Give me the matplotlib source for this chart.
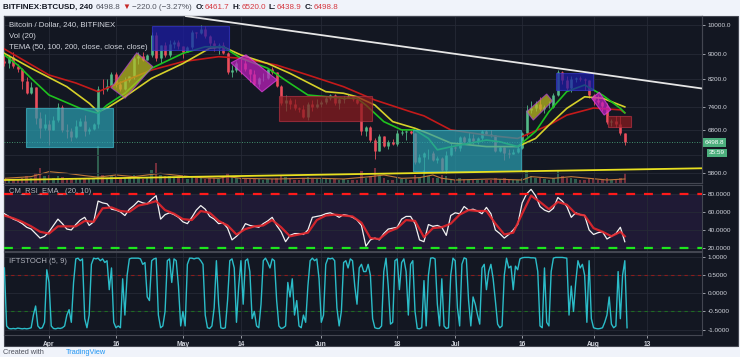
import matplotlib
matplotlib.use("Agg")
import matplotlib.pyplot as plt
import matplotlib.dates as mdates
from matplotlib.patches import Polygon, Rectangle
from matplotlib.ticker import FixedLocator, FixedFormatter, NullLocator, FuncFormatter
import numpy as np
import pandas as pd

plt.rcParams["font.family"] = ["Liberation Sans", "DejaVu Sans"]
plt.rcParams["axes.unicode_minus"] = False

# ---------------- data ----------------
candle_start = "2018-03-22"
closes = [
    8700, 8900, 8600, 8500, 8150, 7800, 7950, 7100, 6850, 6950,
    6800, 7050, 7400, 6800, 6780, 6620, 6900, 7030, 6770, 6830,
    6940, 7900, 7890, 8000, 8350, 8060, 7900, 8170, 8280, 8850,
    8930, 8800, 8940, 9650, 8870, 9280, 8940, 9340, 9400, 9240,
    9070, 9220, 9740, 9700, 9860, 9620, 9370, 9190, 9300, 9020,
    8420, 8480, 8700, 8680, 8500, 8340, 8060, 8240, 8240, 8520,
    8400, 8000, 7510, 7580, 7470, 7360, 7340, 7120, 7470, 7400,
    7490, 7530, 7640, 7720, 7500, 7630, 7650, 7690, 7620, 7510,
    6780, 6880, 6550, 6300, 6640, 6400, 6500, 6450, 6720, 6750,
    6760, 6720, 6050, 6150, 6250, 6250, 6080, 6140, 5860, 6200,
    6390, 6360, 6620, 6510, 6600, 6530, 6610, 6760, 6710, 6670,
    6300, 6380, 6250, 6220, 6270, 6360, 6730, 7320, 7380, 7470,
    7330, 7400, 7400, 7720, 8400, 8170, 7940, 8200, 8230, 8210,
    8170, 7730, 7600, 7540, 7420, 7010, 7030, 6940, 6720, 6499,
]
highs = [
    8950, 8950, 9050, 8650, 8550, 8250, 8100, 7950, 7250, 7200,
    7050, 7150, 7500, 7450, 6950, 6850, 7050, 7100, 7180, 6880,
    6980, 8000, 8200, 8200, 8400, 8400, 8150, 8250, 8300, 8950,
    9050, 9050, 8990, 9750, 9750, 9300, 9380, 9450, 9480, 9450,
    9250, 9270, 9800, 9750, 9990, 9950, 9650, 9450, 9350, 9380,
    9050, 8620, 8750, 8850, 8850, 8520, 8480, 8270, 8380, 8550,
    8580, 8420, 8030, 7720, 7650, 7620, 7400, 7450, 7540, 7580,
    7620, 7580, 7700, 7750, 7760, 7650, 7700, 7760, 7700, 7680,
    7520, 6900, 6900, 6600, 6700, 6650, 6550, 6580, 6800, 6830,
    6790, 6800, 6730, 6220, 6260, 6330, 6300, 6180, 6150, 6300,
    6480, 6400, 6650, 6660, 6750, 6690, 6630, 6800, 6800, 6790,
    6680, 6400, 6390, 6330, 6330, 6400, 6750, 7440, 7550, 7560,
    7670, 7450, 7560, 7780, 8480, 8450, 8300, 8280, 8250, 8280,
    8240, 8180, 7760, 7720, 7560, 7500, 7090, 7150, 7150, 6730,
]
lows = [
    8600, 8550, 8550, 8400, 7900, 7750, 7750, 6950, 6600, 6800,
    6430, 6800, 7000, 6750, 6600, 6520, 6600, 6900, 6650, 6700,
    6800, 6850, 7750, 7850, 7980, 7950, 7850, 7880, 8100, 8200,
    8650, 8750, 8800, 8900, 8750, 8700, 8900, 8900, 9200, 9150,
    8850, 9050, 9150, 9550, 9680, 9550, 9200, 9100, 9000, 9000,
    8350, 8250, 8400, 8350, 8450, 8120, 8020, 7950, 8150, 8200,
    8350, 7950, 7450, 7300, 7350, 7320, 7250, 7100, 7060, 7300,
    7380, 7400, 7480, 7600, 7450, 7350, 7500, 7650, 7550, 7480,
    6680, 6660, 6500, 6120, 6300, 6380, 6350, 6430, 6420, 6680,
    6560, 6700, 6000, 6030, 5800, 6100, 6070, 6030, 5850, 5800,
    6180, 6300, 6300, 6490, 6460, 6450, 6450, 6550, 6680, 6630,
    6270, 6280, 6090, 6140, 6220, 6250, 6340, 6660, 7240, 7290,
    7300, 7230, 7370, 7380, 7700, 8050, 7860, 7820, 8110, 8130,
    7870, 7650, 7450, 7480, 7300, 6950, 6900, 6870, 6680, 6430,
]
first_open = 8750
volume = [
    3, 2.5, 2, 2.5, 3, 4, 3, 6, 9, 4,
    5, 3, 4, 3.5, 3, 3, 2.5, 2.5, 3, 2.5,
    3, 22, 5, 3, 4, 4, 3, 3, 3.5, 5,
    3, 2.5, 3, 8, 12, 5, 4, 4, 3, 3,
    3, 2.5, 4, 3, 3, 2.5, 3, 3, 2.5, 3.5,
    6, 3.5, 3, 3, 2.5, 3, 3, 2.5, 2, 2.5,
    2.5, 3, 5, 3.5, 3, 2, 2, 3, 3.5, 2.5,
    2.5, 2.5, 2.5, 2.5, 2.5, 2, 2.5, 2, 2, 2,
    7, 3, 4, 9, 4, 3, 2, 2, 3, 2.5,
    2.5, 2, 5, 3.5, 8, 4, 3, 3, 5, 4,
    2.5, 2, 3, 2.5, 2.5, 2, 2, 2, 1.5, 2,
    3, 2.5, 3, 2, 1.5, 1.5, 3, 8, 4, 3,
    3, 2.5, 2, 3, 7, 4, 3, 3, 2.5, 2,
    2, 3, 2.5, 2, 2.5, 3, 2, 2, 3, 6,
]
vol_ma_dates = ["2018-03-22", "2018-03-28", "2018-04-01", "2018-04-05", "2018-04-09",
                "2018-04-12", "2018-04-16", "2018-04-20", "2018-04-26", "2018-04-29",
                "2018-05-05", "2018-05-09", "2018-05-11", "2018-05-14", "2018-05-22",
                "2018-05-28", "2018-06-01", "2018-06-06", "2018-06-12", "2018-06-15",
                "2018-06-19", "2018-06-23", "2018-06-26", "2018-06-28", "2018-07-01",
                "2018-07-09", "2018-07-16", "2018-07-18", "2018-07-23", "2018-07-27",
                "2018-07-31", "2018-08-04", "2018-08-08"]
vol_ma = [2.8, 3.8, 6.8, 5.8, 4.4, 3.5, 4.8, 3.8, 5.8, 4.8, 3.2, 2.8, 3.8, 2.8, 2.4,
          2.8, 2.8, 2.4, 3.8, 4.8, 2.8, 3.2, 4.8, 2.8, 1.8, 2.4, 1.8, 3.8, 2.8, 3.8,
          2.8, 1.8, 2.4]

tema50_dates = ["2018-03-22", "2018-03-25", "2018-03-28", "2018-04-01", "2018-04-08",
                "2018-04-12", "2018-04-14", "2018-04-18", "2018-04-24", "2018-05-01",
                "2018-05-06", "2018-05-10", "2018-05-14", "2018-05-20", "2018-05-25",
                "2018-05-29", "2018-06-06", "2018-06-09", "2018-06-11", "2018-06-15",
                "2018-06-19", "2018-06-22", "2018-06-25", "2018-06-27", "2018-06-30",
                "2018-07-08", "2018-07-11", "2018-07-15", "2018-07-19", "2018-07-22",
                "2018-07-26", "2018-07-30", "2018-08-03", "2018-08-07", "2018-08-08"]
tema50 = [8956, 8630, 8220, 7730, 7360, 7230, 7450, 7780, 8530, 9010, 9230, 9230, 8850,
          8530, 8070, 7730, 7640, 7640, 7450, 7010, 6800, 6800, 6590, 6320, 6390, 6550,
          6510, 6395, 6760, 7270, 7830, 8020, 7730, 7360, 7240]
tema100_dates = ["2018-03-22", "2018-03-28", "2018-04-05", "2018-04-10", "2018-04-12",
                 "2018-04-14", "2018-04-18", "2018-04-24", "2018-05-01", "2018-05-07",
                 "2018-05-10", "2018-05-14", "2018-05-20", "2018-05-25", "2018-06-02",
                 "2018-06-06", "2018-06-09", "2018-06-13", "2018-06-17", "2018-06-22",
                 "2018-06-25", "2018-06-30", "2018-07-08", "2018-07-15", "2018-07-19",
                 "2018-07-22", "2018-07-26", "2018-07-30", "2018-08-03", "2018-08-08"]
tema100 = [9010, 8530, 7970, 7500, 7270, 7370, 7680, 8220, 8680, 9180, 9230, 8956, 8680,
           8370, 7826, 7780, 7680, 7450, 7010, 6840, 6710, 6480, 6395, 6395, 6590, 6920,
           7360, 7680, 7640, 7400]
tema200_dates = ["2018-03-22", "2018-04-01", "2018-04-07", "2018-04-12", "2018-04-24",
                 "2018-05-01", "2018-05-09", "2018-05-14", "2018-05-22", "2018-05-29",
                 "2018-06-06", "2018-06-13", "2018-06-21", "2018-06-24", "2018-06-30",
                 "2018-07-08", "2018-07-15", "2018-07-22", "2018-07-26", "2018-08-01",
                 "2018-08-07", "2018-08-08"]
tema200 = [9155, 8320, 8080, 7826, 8475, 8740, 8900, 8850, 8630, 8320, 7970, 7590, 7270,
           7160, 6800, 6670, 6590, 6920, 7180, 7370, 7320, 7240]

# drawings (date, price) corners
boxes = [
    ([("2018-03-26 20:00", 7380), ("2018-04-15 08:00", 7380),
      ("2018-04-15 08:00", 6386), ("2018-03-26 20:00", 6386)], "#2a9fb0", "#3fb6c6"),
    ([("2018-04-14 22:00", 7940), ("2018-04-20 16:00", 9030),
      ("2018-04-24 06:00", 8580), ("2018-04-18 01:00", 7640)], "#bdbd1f", "#b040d0"),
    ([("2018-04-24 00:00", 9963), ("2018-05-11 08:00", 9963),
      ("2018-05-11 08:00", 9122), ("2018-04-24 00:00", 9122)], "#1c1ca8", "#3434c8"),
    ([("2018-05-11 19:00", 8700), ("2018-05-15 03:00", 8960),
      ("2018-05-22 02:00", 8170), ("2018-05-18 17:00", 7820)], "#c020c0", "#e040e0"),
    ([("2018-05-22 12:00", 7700), ("2018-06-12 10:00", 7700),
      ("2018-06-12 10:00", 7030), ("2018-05-22 12:00", 7030)], "#8b1a1e", "#b03040"),
    ([("2018-06-21 14:00", 6800), ("2018-07-15 17:00", 6800),
      ("2018-07-15 17:00", 5850), ("2018-06-21 14:00", 5850)], "#2a9fb0", "#3fb6c6"),
    ([("2018-07-17 01:00", 7270), ("2018-07-21 12:00", 7760),
      ("2018-07-22 19:00", 7560), ("2018-07-18 12:00", 7050)], "#bdbd1f", "#b040d0"),
    ([("2018-07-23 14:00", 8370), ("2018-07-31 23:00", 8370),
      ("2018-07-31 23:00", 7875), ("2018-07-23 14:00", 7875)], "#1c1ca8", "#3434c8"),
    ([("2018-07-31 14:00", 7640), ("2018-08-02 07:00", 7810),
      ("2018-08-04 21:00", 7320), ("2018-08-03 09:00", 7180)], "#c020c0", "#e040e0"),
    ([("2018-08-04 08:00", 7165), ("2018-08-09 08:00", 7165),
      ("2018-08-09 08:00", 6880), ("2018-08-04 08:00", 6880)], "#8b1a1e", "#b03040"),
]
white_trend = [("2018-05-01 12:00", 10336), ("2018-08-25 07:00", 7918)]
yellow_trend = [("2018-03-21 22:00", 5656), ("2018-08-25 07:00", 5905)]
last_price = 6498.8
countdown_price = 6247

rsi = [
    58, 55, 52, 50, 47, 43, 41, 36, 31, 33,
    38, 45, 52, 47, 41, 40, 46, 51, 54, 45,
    49, 72, 70, 69, 63, 62, 60, 56, 63, 67,
    72, 70, 69, 74, 78, 52, 57, 59, 57, 54,
    49, 47, 54, 62, 67, 63, 55, 52, 47, 48,
    42, 29, 33, 38, 47, 45, 44, 43, 47, 50,
    54, 45, 38, 27, 34, 36, 36, 35, 40, 54,
    55, 56, 58, 59, 57, 54, 57, 56, 54, 51,
    45, 22, 29, 31, 29, 36, 41, 42, 43, 52,
    55, 55, 47, 29, 27, 46, 44, 45, 43, 34,
    56, 59, 58, 66, 62, 63, 61, 58, 65, 58,
    40, 36, 31, 35, 40, 46, 70, 80, 85, 78,
    66, 62, 60, 64, 76, 72, 66, 54, 59, 57,
    56, 40, 35, 37, 38, 30, 33, 36, 43, 27,
]
rsi_ema = [56, 53, 49, 44, 38, 36, 44, 44, 44, 50, 49, 64, 65, 61, 60, 67, 69, 72, 62, 58,
           52, 51, 61, 59, 50, 45, 35, 41, 44, 45, 51, 43, 33, 35, 37, 51, 56, 57, 56, 55,
           48, 31, 30, 38, 42, 51, 50, 32, 42, 43, 47, 57, 62, 61, 61, 47, 35, 37, 58, 78,
           71, 63, 71, 68, 58, 56, 42, 38, 33, 38, 33]

ift = [
    0.7, -0.9, -0.97, -0.98, -0.97, -0.98, -0.96, -0.97, -0.98, -0.97,
    -0.98, -0.97, -0.95, -0.6, -0.35, -0.9, -0.97, -0.95, -0.8, 0.65,
    0.3, -0.9, -0.97, -0.98, -0.96, -0.97, -0.95, -0.9, -0.6, -0.45,
    -0.8, 0.3, 0.95, 0.97, 0.9, 0.95, -0.7, -0.95, -0.6, 0.8,
    0.97, 0.95, 0.97, 0.9, 0.95, 0.85, 0.9, 0.1, 0.7, -0.8,
    -0.95, -0.9, -0.95, 0.4, -0.6, 0.5, 0.95, 0.97, 0.97, 0.97,
    0.97, 0.95, 0.8, 0.85, -0.1, -0.2, 0.9, 0.95, 0.97, -0.6,
    -0.95, -0.9, -0.5, 0.9, 0.95, 0.3, 0.95, 0.9, 0.2, -0.9,
    -0.5, -0.9, 0.8, 0.97, 0.97, 0.95, 0.97, 0.97, 0.9, 0.8,
    -0.6, -0.95, -0.97, -0.9, -0.4, 0.9, -0.3, -0.95, -0.97, -0.95,
    -0.2, 0.9, 0.95, 0.7, -0.8, 0.2, 0.9, -0.3, 0.9, 0.95,
    0.6, -0.7, -0.5, -0.9, -0.95, -0.3, 0.9, 0.97, 0.85, 0.7,
    0.95, 0.9, -0.2, -0.9, -0.97, -0.95, -0.9, 0.3, -0.1, 0.4,
    -0.6, -0.2, -0.9, -0.95, -0.6, -0.8, 0.2, 0.9, 0.97, 0.9,
    0.95, 0.4, -0.8, -0.6, 0.8, 0.97, 0.95, 0.97, 0.9, -0.4,
    -0.9, -0.5, 0.85, 0.9, 0.7, 0.95, 0.9, 0.2, -0.3, 0.7,
    0.8, 0.6, 0.6, 0.8, 0.5, -0.7, -0.95, -0.97, -0.97, -0.9,
    0.6, 0.97, 0.2, -0.85, -0.8, 0.9, 0.95, 0.1, 0.85, 0.95,
    0.6, -0.6, 0.8, 0.9, -0.5, -0.97, -0.98, -0.95, 0.35, -0.9,
    0.5, 0.97, 0.98, 0.95, -0.3, -0.9, 0.4, -0.9, -0.97, -0.95,
    0.5, 0.97, 0.9, -0.4, -0.9, 0.8, 0.98, 0.95, -0.2, -0.9,
    -0.1, -0.3, -0.6, -0.85, 0.7, 0.8, 0.1, 0.6, 0.8, 0.4,
    -0.2, -0.85, -0.95, -0.9, 0.5, 0.97, 0.7, 0.75, 0.1, 0.75,
    0.65, 0.95, 0.98, 0.99, 0.99, 0.99, 0.98, 0.98, 0.97, 0.6,
    -0.9, -0.95, 0.7, -0.8, -0.9, 0.6, 0.97, 0.99, 0.99, 0.99,
    0.99, 0.98, 0.97, -0.6, 0.2, -0.5, 0.3, 0.9, 0.7, 0.8,
    0.5, -0.8, 0.9, -0.7, -0.95, -0.97, -0.98, -0.97, -0.95, -0.8,
    -0.6, -0.1, -0.85, -0.95, -0.9, 0.6, -0.7, 0.5, 0.9, -0.95,
]

price_ticks = [5800, 6800, 7400, 8200, 9000, 10000]
price_grid_extra = [6200]
rsi_ticks = [20, 40, 60, 80]
ift_ticks = [-1.0, -0.5, 0.0, 0.5, 1.0]
date_ticks = ["2018-04-01", "2018-04-16", "2018-05-01", "2018-05-14", "2018-06-01",
              "2018-06-18", "2018-07-01", "2018-07-16", "2018-08-01", "2018-08-13"]
date_labels = ["Apr", "16", "May", "14", "Jun", "18", "Jul", "16", "Aug", "13"]

# ---------------- styling ----------------
W, H = 740, 357
BG = "#131722"
GRID = "#262a36"
EDGE = "#434651"
TXT = "#d1d4dc"
UP = "#53b987"
DN = "#eb4d5c"


def px_rect(x0, y0, x1, y1):
    return [x0 / W, 1 - y1 / H, (x1 - x0) / W, (y1 - y0) / H]


def ts(s):
    return mdates.date2num(pd.Timestamp(s))


fig = plt.figure(figsize=(W / 100, H / 100), dpi=100)
fig.patch.set_facecolor("#f0f3fa")
fig.add_artist(Rectangle((4 / W, 1 - 346 / H), 734 / W, 330 / H, transform=fig.transFigure,
                         facecolor=BG, edgecolor=EDGE, lw=0.8, zorder=-5))

axv = fig.add_axes(px_rect(4, 16, 702, 183))
axp = fig.add_axes(px_rect(4, 16, 702, 183), sharex=axv)
axr = fig.add_axes(px_rect(4, 185, 702, 251), sharex=axv)
axi = fig.add_axes(px_rect(4, 252, 702, 335), sharex=axv)
axp.patch.set_visible(False)

for a in (axv, axp, axr, axi):
    a.set_facecolor(BG)
    for s in a.spines.values():
        s.set_color(EDGE)
        s.set_linewidth(0.8)
    a.tick_params(colors=TXT, labelsize=4.6, length=2, width=0.5, pad=2)

days = pd.date_range(candle_start, periods=len(closes), freq="D")
halfdays = pd.date_range(candle_start, periods=len(ift), freq="12h")
ema_days = list(days[::2]) + [days[-1]]

# volume (bottom layer)
opens = [first_open] + closes[:-1]
cols = [UP if c >= o else DN for o, c in zip(opens, closes)]
axv.bar(days, volume, width=0.55, color=cols, alpha=0.45, zorder=2)
axv.plot(pd.to_datetime(vol_ma_dates), vol_ma, color="#c0783a", lw=0.8, zorder=3)
axv.set_ylim(0, 100)
axv.set_yticks([])
axv.tick_params(labelbottom=False, length=0)

# price candles
axp.set_yscale("log")
axp.vlines(days, lows, highs, colors=cols, lw=0.6, zorder=3)
axp.vlines(days, np.minimum(opens, closes), np.maximum(opens, closes), colors=cols,
           lw=1.9, zorder=3)
axp.plot(pd.to_datetime(tema200_dates), tema200, color="#c41a1a", lw=1.2, zorder=4)
axp.plot(pd.to_datetime(tema100_dates), tema100, color="#d6d12a", lw=1.2, zorder=4)
axp.plot(pd.to_datetime(tema50_dates), tema50, color="#1fc21f", lw=1.2, zorder=4)
axp.axhline(last_price, color=UP, lw=0.6, ls=(0, (1, 2)), zorder=4)
for g in price_grid_extra:
    axp.axhline(g, color=GRID, lw=0.6, zorder=1)

for corners, fc, ec in boxes:
    pts = [(ts(d), p) for d, p in corners]
    axp.add_patch(Polygon(pts, closed=True, facecolor=fc, edgecolor=ec, lw=0.8,
                          alpha=0.72, zorder=5))

axp.plot([ts(d) for d, _ in white_trend], [p for _, p in white_trend],
         color="#e6e6e6", lw=1.3, zorder=6, solid_capstyle="butt")
axp.plot([ts(d) for d, _ in yellow_trend], [p for _, p in yellow_trend],
         color="#e8e020", lw=1.3, zorder=6, solid_capstyle="butt")

axp.set_ylim(5594, 10336)
axp.yaxis.tick_right()
axp.yaxis.set_major_locator(FixedLocator(price_ticks))
axp.yaxis.set_major_formatter(FuncFormatter(lambda v, p: f"{v:.1f}"))
axp.yaxis.set_minor_locator(NullLocator())
axp.grid(True, color=GRID, lw=0.6)
axp.tick_params(labelbottom=False, bottom=False)

axp.text(1.004, last_price, "6498.8", transform=axp.get_yaxis_transform(), ha="left",
         va="center", fontsize=4.6, color="white", zorder=10, clip_on=False,
         bbox=dict(boxstyle="square,pad=0.3", fc="#4caf7d", ec="none"))
axp.text(1.010, countdown_price, "35:59", transform=axp.get_yaxis_transform(), ha="left",
         va="center", fontsize=4.6, color="white", zorder=10, clip_on=False,
         bbox=dict(boxstyle="square,pad=0.3", fc="#4caf7d", ec="none"))

leg_kw = dict(transform=axp.transAxes, ha="left", va="center", fontsize=5.6, color=TXT,
              zorder=12)
axp.text(0.0075, 0.946, "Bitcoin / Dollar, 240, BITFINEX", **leg_kw)
axp.text(0.0075, 0.875, "Vol (20)", **leg_kw)
axp.text(0.0075, 0.812, "TEMA (50, 100, 200, close, close, close)", **leg_kw)

# RSI
axr.axhspan(20, 80, color="#1f1a35", zorder=0)
axr.plot(days, rsi, color="#f2f2f2", lw=0.9, zorder=3)
axr.plot(ema_days, rsi_ema, color="#e5262c", lw=1.6, zorder=4, alpha=0.9)
axr.axhline(80, color="#ff1a1a", lw=1.6, ls=(0, (4, 4)), zorder=5)
axr.axhline(20, color="#1ee61e", lw=1.6, ls=(0, (4, 4)), zorder=5)
axr.set_ylim(16.7, 89.8)
axr.yaxis.tick_right()
axr.yaxis.set_major_locator(FixedLocator(rsi_ticks))
axr.yaxis.set_major_formatter(FuncFormatter(lambda v, p: f"{v:.4f}"))
axr.grid(True, color=GRID, lw=0.6)
axr.tick_params(labelbottom=False, bottom=False)
axr.text(0.0075, 0.894, "CM_RSI_EMA_ (20, 10)", transform=axr.transAxes, ha="left",
         va="center", fontsize=5.5, color="#b2b5be", zorder=12)

# IFTSTOCH
axi.plot(halfdays, ift, color="#2bbcc8", lw=1.0, zorder=3)
axi.axhline(0.5, color="#8a1c1c", lw=0.8, ls=(0, (3, 3)), zorder=2)
axi.axhline(-0.5, color="#1e6b22", lw=0.8, ls=(0, (3, 3)), zorder=2)
axi.set_ylim(-1.15, 1.14)
axi.yaxis.tick_right()
axi.yaxis.set_major_locator(FixedLocator(ift_ticks))
axi.yaxis.set_major_formatter(FuncFormatter(lambda v, p: f"{v:.4f}"))
axi.grid(True, color=GRID, lw=0.6)
axi.text(0.0075, 0.88, "IFTSTOCH (5, 9)", transform=axi.transAxes, ha="left",
         va="center", fontsize=5.5, color="#b2b5be", zorder=12)

axi.xaxis.set_major_locator(FixedLocator([ts(d) for d in date_ticks]))
axi.xaxis.set_major_formatter(FixedFormatter(date_labels))
axi.set_xlim(ts("2018-03-21 22:00"), ts("2018-08-25 07:00"))
for lab in axi.get_xticklabels():
    lab.set_fontweight("bold")
    lab.set_fontsize(4.8)

# header, laid out piece by piece
renderer = fig.canvas.get_renderer()
hy = 1 - 7.5 / H
head = [
    ("BITFINEX:BTCUSD, 240", "#131722", "bold", 3),
    ("6498.8", "#50535e", "normal", 2),
    ("\u25bc", "#c62828", "normal", 2),
    ("\u2212220.0 (\u22123.27%)", "#50535e", "normal", 3),
    ("O:", "#131722", "bold", 0.5), ("6461.7", "#d5363e", "normal", 3),
    ("H:", "#131722", "bold", 0.5), ("6520.0", "#d5363e", "normal", 3),
    ("L:", "#131722", "bold", 0.5), ("6438.9", "#d5363e", "normal", 3),
    ("C:", "#131722", "bold", 0.5), ("6498.8", "#d5363e", "normal", 0),
]
x = 3.0
for s, c, w, gap in head:
    t = fig.text(x / W, hy, s, ha="left", va="center", fontsize=5.8, color=c, fontweight=w)
    x = t.get_window_extent(renderer).x1 + gap

fy = 1 - 352 / H
t = fig.text(3 / W, fy, "Created with", ha="left", va="center", fontsize=5.3,
             color="#50535e")
fig.text(t.get_window_extent(renderer).x1 / W + 22 / W, fy, "TradingView", ha="left",
         va="center", fontsize=5.3, color="#2196f3")

fig.savefig("out.png", dpi=100, facecolor=fig.get_facecolor())
